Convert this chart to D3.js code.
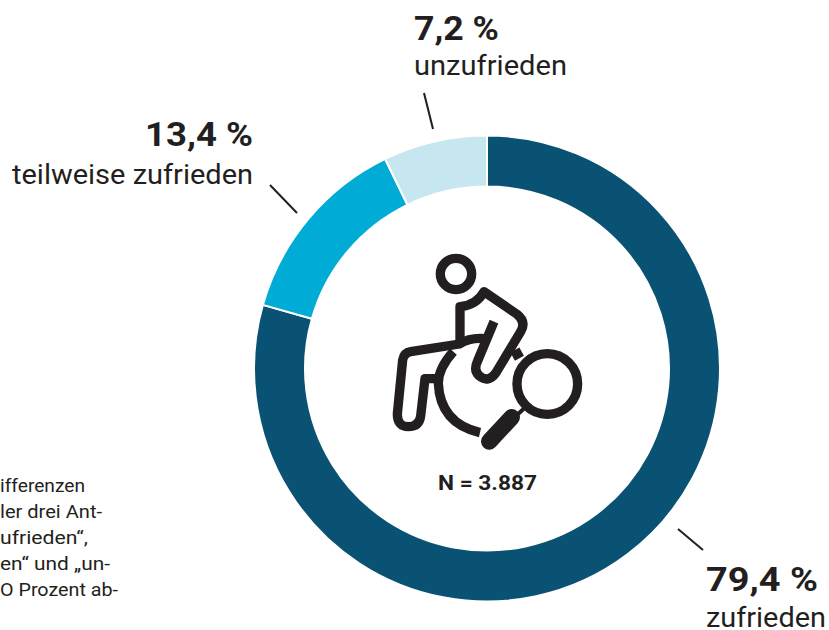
<!DOCTYPE html>
<html><head><meta charset="utf-8">
<script src="https://cdnjs.cloudflare.com/ajax/libs/d3/7.8.5/d3.min.js"></script>
<style>html,body{margin:0;padding:0;background:#fff}svg{display:block}text{font-family:Roboto,"Noto Sans",sans-serif;fill:#231f20}</style>
</head><body><svg id="c" width="829" height="630"></svg>
<script>
const categories = ["zufrieden","teilweise zufrieden","unzufrieden"];
const values = [79.4,13.4,7.2];
const valueLabels = ["79,4 %","13,4 %","7,2 %"];
const colors = ["#0a5273","#00acd6","#c6e7f0"];
const noteLines = ["ifferenzen","ler drei Ant-","ufrieden“,","en“ und „un-","O Prozent ab-"];
const sampleLabel = "N = 3.887";

const W=829,H=630,cx=487,cy=368.5,R=233,r=182;
const svg=d3.select("#c");
const pie=d3.pie().sort(null).value(d=>d)(values);
const arc=d3.arc().innerRadius(r).outerRadius(R);
const g=svg.append("g").attr("transform",`translate(${cx},${cy})`);
g.selectAll("path").data(pie).join("path")
 .attr("d",arc).attr("fill",(d,i)=>colors[i]).attr("stroke","#fff").attr("stroke-width",2);

const layout=[
 {a:"start",x:706,y1:591,y2:627,w1:112,w2:120,l:[678,529,703,550]},
 {a:"end",x:253,y1:146,y2:184,w1:108,w2:241,l:[270,185,297,213]},
 {a:"start",x:414,y1:40,y2:75,w1:85,w2:153,l:[424,93,433,129]}
];
categories.forEach((c,i)=>{
 const p=layout[i];
 svg.append("text").attr("x",p.x).attr("y",p.y1).attr("text-anchor",p.a)
  .attr("font-size",33).attr("font-weight",700)
  .attr("textLength",p.w1).attr("lengthAdjust","spacingAndGlyphs").text(valueLabels[i]);
 svg.append("text").attr("x",p.x).attr("y",p.y2).attr("text-anchor",p.a)
  .attr("font-size",28).attr("font-weight",400).attr("textLength",p.w2).attr("lengthAdjust","spacingAndGlyphs").text(c);
 svg.append("line").attr("x1",p.l[0]).attr("y1",p.l[1]).attr("x2",p.l[2]).attr("y2",p.l[3])
  .attr("stroke","#231f20").attr("stroke-width",2);
});
svg.append("text").attr("x",438).attr("y",490)
 .attr("font-size",20).attr("font-weight",700)
 .attr("textLength",99).attr("lengthAdjust","spacingAndGlyphs").text(sampleLabel);
const noteWidths=[85,102,88,110,118];
noteLines.forEach((t,i)=>svg.append("text").attr("x",0).attr("y",491.5+i*26)
 .attr("font-size",18).attr("textLength",noteWidths[i]).attr("lengthAdjust","spacingAndGlyphs").text(t));

const ic=svg.append("g").attr("transform","translate(370,240) scale(0.3333)")
 .attr("fill","none").attr("stroke","#231f20").attr("stroke-width",28)
 .attr("stroke-linejoin","round");
ic.append("circle").attr("cx",258).attr("cy",102).attr("r",47);
ic.append("path").attr("d","M270 312 L270 200 Q320 195 342 155 L440 222 Q470 245 452 275 L378 398 Q355 430 328 408 Q310 392 322 365 L372 245");
ic.append("path").attr("d","M345 296 Q300 292 268 312 L122 335 Q102 338 98 360 L82 522 Q82 560 115 560 Q148 560 152 528 L165 416 L205 416");
ic.append("path").attr("d","M250 335 Q205 385 205 430 Q210 550 330 578");
ic.append("path").attr("d","M428 350 L455 335");
ic.append("circle").attr("cx",532).attr("cy",432).attr("r",91);
ic.append("path").attr("d","M470 498 L425 540").attr("stroke-width",12);
ic.append("path").attr("d","M425 532 L358 604").attr("stroke-width",50).attr("stroke-linecap","round");
</script></body></html>
